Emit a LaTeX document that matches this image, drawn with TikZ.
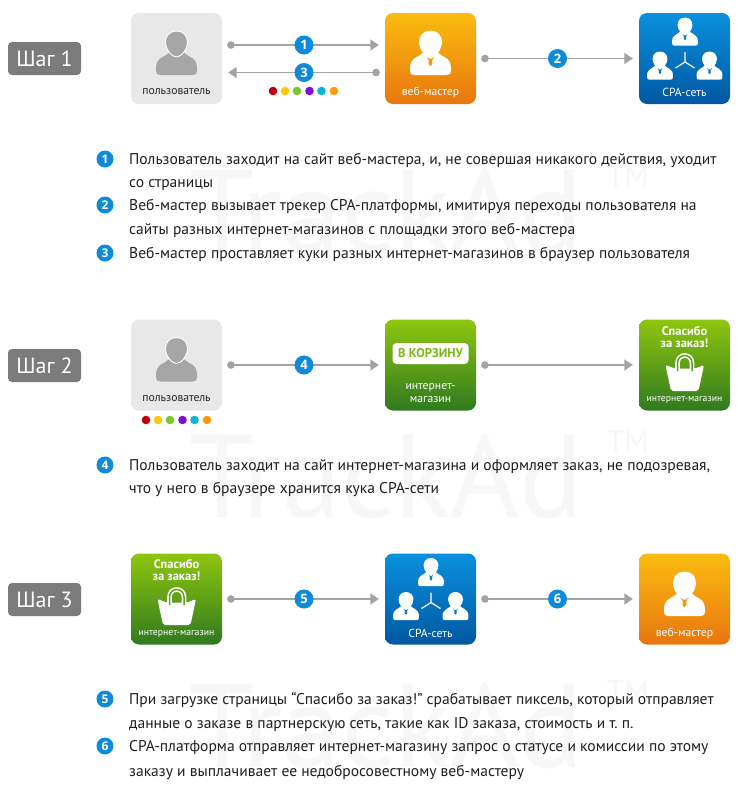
\documentclass[tikz,border=0pt]{standalone}
\usepackage{fontspec}
\setmainfont{PT Sans}
\newfontfamily\lblfont{PT Sans}
\newfontfamily\digitfont{Open Sans}
\newfontfamily\markfont{PT Sans}
\usetikzlibrary{arrows.meta}
\definecolor{pillgray}{HTML}{7B7B7B}
\definecolor{usergray}{HTML}{E8E8E8}
\definecolor{iconGray}{HTML}{A6A6A6}
\definecolor{lineGray}{HTML}{A3A3A3}
\definecolor{badgeblue}{HTML}{0D8BDA}
\definecolor{wm}{HTML}{F7F7F7}
\definecolor{orT}{HTML}{FBBC10}
\definecolor{orB}{HTML}{E8760F}
\definecolor{blT}{HTML}{0A90DE}
\definecolor{blB}{HTML}{0058A2}
\definecolor{grT}{HTML}{8FC60F}
\definecolor{grB}{HTML}{2F7A1F}
\definecolor{grM}{HTML}{5FA318}
\definecolor{ckA}{HTML}{C00008}
\definecolor{ckB}{HTML}{FFC60A}
\definecolor{ckC}{HTML}{77C72E}
\definecolor{ckD}{HTML}{7A10D0}
\definecolor{ckE}{HTML}{0BB5D8}
\definecolor{ckF}{HTML}{FF9A0A}
\tikzset{
  tile/.style={rectangle,rounded corners=8pt,minimum width=91pt,minimum height=91pt,inner sep=0pt},
  usertile/.style={tile,fill=usergray},
  webtile/.style={tile,top color=orT,bottom color=orB},
  cpatile/.style={tile,top color=blT,bottom color=blB},
  shoptile/.style={tile,top color=grT,bottom color=grB},
  pill/.style={rectangle,rounded corners=4pt,fill=pillgray,minimum width=73pt,minimum height=33pt,inner sep=0pt,text=white,font=\lblfont\fontsize{22}{24}\selectfont},
  badge/.style={circle,fill=badgeblue,minimum size=19pt,inner sep=0pt,text=white,font=\digitfont\bfseries\fontsize{13}{15}\selectfont},
  bullet/.style={circle,fill=badgeblue,minimum size=17pt,inner sep=0pt,text=white,font=\digitfont\bfseries\fontsize{12}{14}\selectfont},
  conn/.style={draw=lineGray,line width=1.4pt,{Circle[length=7.5pt,width=7.5pt]}-{Triangle[length=8.5pt,width=11pt]},shorten <=5pt,shorten >=6pt},
  tline/.style={anchor=base west,inner sep=0pt,text=black!88,font=\fontsize{15.55}{17}\selectfont},
  tlabel/.style={inner sep=0pt,text=white,font=\lblfont\fontsize{11.7}{13.5}\selectfont,align=center},
  thanks/.style={inner sep=0pt,text=white,font=\lblfont\bfseries\fontsize{12.5}{15}\selectfont},
  cookie/.style={circle,minimum size=8.6pt,inner sep=0pt},
  wmark/.style={anchor=base west,inner sep=0pt,text=wm}
}
\newcommand{\personicon}[5]{%
  \begin{scope}[shift={(#1,#2)},scale=#3]
    \fill[#4] (-8,22) .. controls (-11,26) and (-20.5,26) .. (-20.5,37) -- (-20.5,40)
      .. controls (-20.5,43) and (-19,44) .. (-16,44) -- (16,44)
      .. controls (19,44) and (20.5,43) .. (20.5,40) -- (20.5,37)
      .. controls (20.5,26) and (11,26) .. (8,22) -- cycle;
    \filldraw[fill=#4,draw=white,line width=0.9pt] (0,0) .. controls (7,0) and (11,5) .. (11,11)
      .. controls (11,18) and (5,26) .. (0,26) .. controls (-5,26) and (-11,18) .. (-11,11)
      .. controls (-11,5) and (-7,0) .. (0,0) -- cycle;
    \fill[#5] (-1.5,27.5) -- (1.5,27.5) -- (2,33) -- (0,35) -- (-2,33) -- cycle;
    \fill[#5] (-4,25.5) -- (-1.5,27.5) -- (-1.5,29.5) -- cycle;
    \fill[#5] (4,25.5) -- (1.5,27.5) -- (1.5,29.5) -- cycle;
  \end{scope}}
\newcommand{\groupicon}[2]{%
  \begin{scope}[shift={(#1,#2)}]
    \personicon{46}{5}{0.63}{white}{blT!70!blB}
    \personicon{21}{39}{0.63}{white}{blT!60!blB}
    \personicon{70.5}{39}{0.63}{white}{blT!60!blB}
    \draw[white,line width=1.2pt] (46,39) -- (46,49) (36.5,55) -- (46,49) -- (55.5,55);
  \end{scope}}
\newcommand{\bagicon}[2]{%
  \begin{scope}[shift={(#1,#2)}]
    \fill[white,rounded corners=2pt] (26.5,46) -- (36,49.5) -- (56,49.5) -- (65,46) -- (59.5,72) -- (32,72) -- cycle;
    \draw[white,line width=4.6pt] (38.5,52) -- (38.5,44) .. controls (38.5,34) and (53,34) .. (53,44) -- (53,52);
    \draw[grM,line width=1.5pt] (38.5,52) -- (38.5,44) .. controls (38.5,34) and (53,34) .. (53,44) -- (53,52);
  \end{scope}}
\newcommand{\txtline}[3]{\node[tline] (#1) at (129,#2) {#3};}
\frenchspacing
\begin{document}
\begin{tikzpicture}[x=1pt,y=-1pt]
\useasboundingbox (0,0) rectangle (748,785);
\fill[white] (0,0) rectangle (748,785);
% watermarks
\foreach \n/\yy/\ty in {a/252/187,b/517/452,c/767/702}{
  \node[wmark,font=\markfont\fontsize{118}{118}\selectfont] (wm\n) at (189,\yy) {TrackAd};
  \node[wmark,font=\markfont\fontsize{31}{31}\selectfont] (tm\n) at (607,\ty) {TM};
}
% step pills
\node[pill] (s1) at (44.5,58.5) {Шаг 1};
\node[pill] (s2) at (44.5,365.5) {Шаг 2};
\node[pill] (s3) at (44.5,599.5) {Шаг 3};
% row 1
\node[usertile] (u1) at (176.5,58.5) {};
\node[webtile] (w1) at (430.5,58.5) {};
\node[cpatile] (c1) at (684.5,58.5) {};
\personicon{176.5}{31}{1}{iconGray}{iconGray}
\personicon{430.5}{31}{1}{white}{orT!50!orB}
\groupicon{639}{13}
\node[tlabel,text=black!85] (u1t) at (176.5,92) {пользователь};
\node[tlabel] (w1t) at (430.5,92) {веб-мастер};
\node[tlabel] (c1t) at (684.5,92) {СРА-сеть};
\draw[conn] ([yshift=13.5pt]u1.east) -- ([yshift=13.5pt]w1.west);
\draw[conn] ([yshift=-14pt]w1.west) -- ([yshift=-14pt]u1.east);
\draw[conn] (w1.east) -- (c1.west);
\node[badge] (b1) at (304,45) {1};
\node[badge] (b3) at (304,72.5) {3};
\node[badge] (b2) at (557.5,58.5) {2};
\foreach \i/\c/\xx in {1/ckA/273,2/ckB/285,3/ckC/297,4/ckD/309.5,5/ckE/321.5,6/ckF/334}{
  \node[cookie,fill=\c] (da\i) at (\xx,91) {};
}
% text 1
\node[bullet] (t1) at (105,159) {1};
\txtline{l1}{164}{Пользователь заходит на сайт веб-мастера, и, не совершая никакого действия, уходит}
\txtline{l2}{187.5}{со страницы}
\node[bullet] (t2) at (105,205) {2};
\txtline{l3}{210}{Веб-мастер вызывает трекер СРА-платформы, имитируя переходы пользователя на}
\txtline{l4}{234}{сайты разных интернет-магазинов с площадки этого веб-мастера}
\node[bullet] (t3) at (105,253) {3};
\txtline{l5}{258}{Веб-мастер проставляет куки разных интернет-магазинов в браузер пользователя}
% row 2
\node[usertile] (u2) at (176.5,365) {};
\node[shoptile] (m2) at (430.5,365) {};
\node[shoptile] (k2) at (684.5,365) {};
\personicon{176.5}{337.5}{1}{iconGray}{iconGray}
\node[tlabel,text=black!85] (u2t) at (176.5,399) {пользователь};
\node[rectangle,rounded corners=4pt,fill=white,minimum width=76pt,minimum height=21pt,inner sep=0pt,text=grT!80!grB,font=\lblfont\bfseries\fontsize{12.7}{15}\selectfont] (cart) at (430.5,353.5) {В КОРЗИНУ};
\node[tlabel,font=\lblfont\fontsize{11.7}{13}\selectfont] (m2t) at (430.5,393.5) {интернет-\\магазин};
\node[thanks] (k2a) at (684.5,331) {Спасибо};
\node[thanks] (k2b) at (684.5,343) {за заказ!};
\bagicon{639}{319}
\node[tlabel,font=\lblfont\fontsize{9.7}{12}\selectfont] (k2t) at (684.5,400) {интернет-магазин};
\draw[conn] (u2.east) -- (m2.west);
\draw[conn] (m2.east) -- (k2.west);
\node[badge] (b4) at (304,365) {4};
\foreach \i/\c/\xx in {1/ckA/146,2/ckB/158,3/ckC/170,4/ckD/182.5,5/ckE/194.5,6/ckF/207}{
  \node[cookie,fill=\c] (db\i) at (\xx,420) {};
}
% text 2
\node[bullet] (t4) at (105,465) {4};
\txtline{l6}{470}{Пользователь заходит на сайт интернет-магазина и оформляет заказ, не подозревая,}
\txtline{l7}{493.5}{что у него в браузере хранится кука СРА-сети}
% row 3
\node[shoptile] (k3) at (176.5,599) {};
\node[cpatile] (c3) at (430.5,599) {};
\node[webtile] (w3) at (684.5,599) {};
\node[thanks] (k3a) at (176.5,564.5) {Спасибо};
\node[thanks] (k3b) at (176.5,576.5) {за заказ!};
\bagicon{131}{553}
\node[tlabel,font=\lblfont\fontsize{9.7}{12}\selectfont] (k3t) at (176.5,634) {интернет-магазин};
\groupicon{385}{553.5}
\node[tlabel] (c3t) at (430.5,633) {СРА-сеть};
\personicon{684.5}{572}{1}{white}{orT!50!orB}
\node[tlabel] (w3t) at (684.5,633) {веб-мастер};
\draw[conn] (k3.east) -- (c3.west);
\draw[conn] (c3.east) -- (w3.west);
\node[badge] (b5) at (304,599) {5};
\node[badge] (b6) at (557.5,599) {6};
% text 3
\node[bullet] (t5) at (105,699) {5};
\txtline{l8}{704}{При загрузке страницы “Спасибо за заказ!” срабатывает пиксель, который отправляет}
\txtline{l9}{728}{данные о заказе в партнерскую сеть, такие как ID заказа, стоимость и т. п.}
\node[bullet] (t6) at (105,746) {6};
\txtline{l10}{751}{СРА-платформа отправляет интернет-магазину запрос о статусе и комиссии по этому}
\txtline{l11}{776}{заказу и выплачивает ее недобросовестному веб-мастеру}
\end{tikzpicture}
\end{document}
